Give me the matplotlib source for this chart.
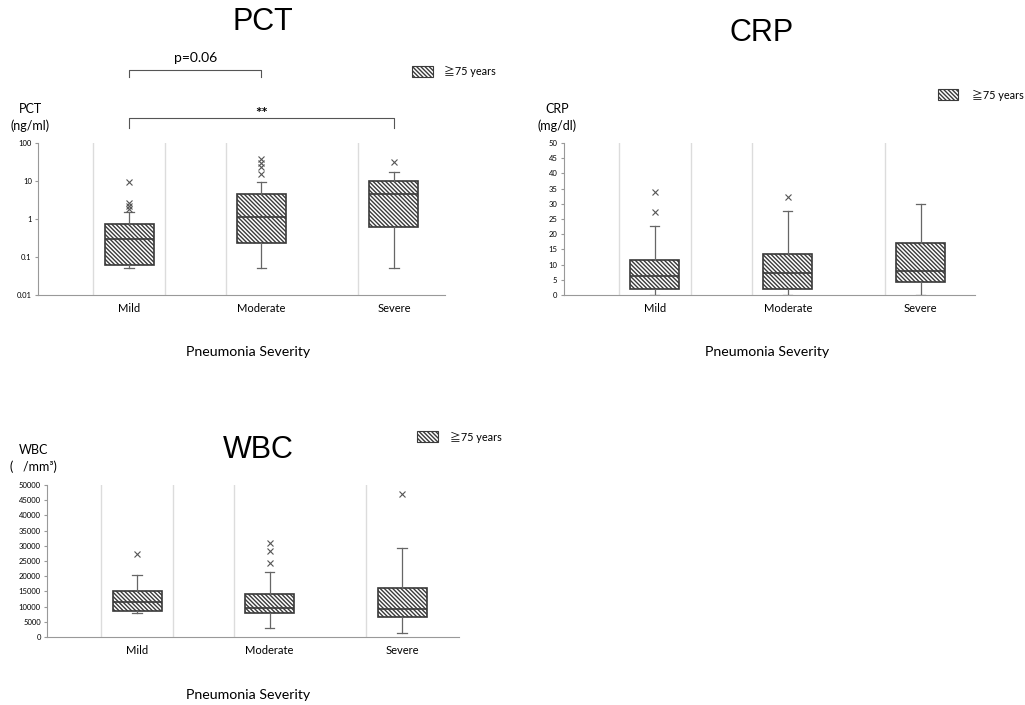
import numpy as np
import matplotlib
matplotlib.use("Agg")
from matplotlib import pyplot as plt
from matplotlib.patches import Rectangle

# category names
categories = ["Mild", "Moderate", "Severe"]

# PCT (ng/ml), log scale
pct_whislo = [0.05, 0.05, 0.05]
pct_q1 = [0.062, 0.24, 0.63]
pct_med = [0.30, 1.1, 4.5]
pct_q3 = [0.75, 4.5, 9.8]
pct_whishi = [1.55, 9.6, 17.6]
pct_fliers = [[9.6, 2.7, 2.2, 1.8], [37, 30, 24, 15], [31]]
pct_ticks = [0.01, 0.1, 1, 10, 100]
pct_ticklabels = ["0.01", "0.1", "1", "10", "100"]

# CRP (mg/dl)
crp_whislo = [0, 0, 0]
crp_q1 = [1.9, 2.1, 4.3]
crp_med = [6.2, 7.3, 8.0]
crp_q3 = [11.5, 13.4, 17.1]
crp_whishi = [22.8, 27.6, 29.9]
crp_fliers = [[34, 27.2], [32.2], []]
crp_ticks = list(range(0, 51, 5))

# WBC (/mm3)
wbc_whislo = [8000, 2850, 1430]
wbc_q1 = [8550, 7800, 6470]
wbc_med = [11400, 9540, 9320]
wbc_q3 = [15130, 14250, 16100]
wbc_whishi = [20300, 21500, 29300]
wbc_fliers = [[27200], [30900, 28300, 24450], [46900]]
wbc_ticks = list(range(0, 50001, 5000))

plt.rcParams['hatch.linewidth'] = 1.0
plt.rcParams['hatch.color'] = '#3a3a3a'

lab_font = ['Lato', 'DejaVu Sans']
leg_font = ['Lato', 'Noto Sans CJK JP', 'DejaVu Sans']
title_font = ['Liberation Sans', 'DejaVu Sans']
dark = '#3a3a3a'
HATCH = '\\' * 8

fig = plt.figure(figsize=(10.25, 7.05), dpi=100)


def make_stats(lo, q1, med, q3, hi, fl):
    stats = []
    for i in range(len(categories)):
        stats.append({'whislo': lo[i], 'q1': q1[i], 'med': med[i], 'q3': q3[i],
                      'whishi': hi[i], 'fliers': fl[i], 'label': categories[i]})
    return stats


def draw_panel(rect, stats, xlim, ylim, ticks, ticklabels, log=False):
    ax = fig.add_axes(rect)
    if log:
        ax.set_yscale('log')
    ax.set_xlim(*xlim)
    ax.set_ylim(*ylim)
    # faint vertical separators
    for xv in [1 - 0.27, 1 + 0.27, 2 - 0.27, 3 - 0.27]:
        ax.axvline(xv, color='#dcdcdc', lw=1.0, zorder=0)
    ax.bxp(stats, positions=[1, 2, 3], widths=0.37, capwidths=0.07,
           patch_artist=True, showfliers=True,
           boxprops=dict(facecolor='white', edgecolor=dark, hatch=HATCH, lw=1.2),
           medianprops=dict(color=dark, lw=1.2),
           whiskerprops=dict(color='#666666', lw=0.9),
           capprops=dict(color='#666666', lw=0.9),
           flierprops=dict(marker='x', markeredgecolor='#555555', markersize=4.5,
                           markeredgewidth=0.8, linestyle='none'))
    for s in ['top', 'right']:
        ax.spines[s].set_visible(False)
    ax.spines['left'].set_color('#999999')
    ax.spines['bottom'].set_color('#999999')
    ax.set_yticks(ticks)
    ax.set_yticklabels(ticklabels, fontsize=5.5, family=lab_font)
    ax.yaxis.set_minor_locator(plt.NullLocator())
    ax.tick_params(axis='y', length=2.5, color='#999999', pad=2)
    ax.set_xticks([1, 2, 3])
    ax.set_xticklabels(categories, fontsize=8, family=lab_font)
    ax.tick_params(axis='x', length=0, pad=6)
    return ax


def legend_at(x, y, tx, ty):
    fig.patches.append(Rectangle((x, y), 0.02, 0.0155, transform=fig.transFigure,
                                 facecolor='white', edgecolor=dark, hatch=HATCH, lw=0.8))
    fig.text(tx, ty, "≧75 years", fontsize=7.8, family=leg_font, va='center', ha='left')


# PCT
ax1 = draw_panel([0.0371, 0.5816, 0.397, 0.2156],
                 make_stats(pct_whislo, pct_q1, pct_med, pct_q3, pct_whishi, pct_fliers),
                 (0.313, 3.385), (0.01, 100), pct_ticks, pct_ticklabels, log=True)
tr = ax1.get_xaxis_transform()
ax1.plot([1, 1, 2, 2], [1.434, 1.48, 1.48, 1.434], color='#555555', lw=0.8, transform=tr, clip_on=False)
ax1.text(1.5, 1.52, "p=0.06", transform=tr, ha='center', va='bottom', fontsize=10, family=lab_font)
ax1.plot([1, 1, 3, 3], [1.099, 1.164, 1.164, 1.099], color='#555555', lw=0.8, transform=tr, clip_on=False)
ax1.text(2.0, 1.145, "**", transform=tr, ha='center', va='bottom', fontsize=11,
         fontweight='bold', family=lab_font)
fig.text(0.2566, 0.969, "PCT", fontsize=22, family=title_font, ha='center', va='center')
fig.text(0.0293, 0.845, "PCT", fontsize=9, family=lab_font, ha='center', va='center')
fig.text(0.0293, 0.821, "(ng/ml)", fontsize=9, family=lab_font, ha='center', va='center')
fig.text(0.242, 0.5, "Pneumonia Severity", fontsize=10.2, family=lab_font, ha='center', va='center')
legend_at(0.402, 0.891, 0.433, 0.898)

# CRP
draw_panel([0.550, 0.5816, 0.401, 0.2156],
           make_stats(crp_whislo, crp_q1, crp_med, crp_q3, crp_whishi, crp_fliers),
           (0.316, 3.406), (0, 50), crp_ticks, [str(t) for t in crp_ticks])
fig.text(0.743, 0.953, "CRP", fontsize=22, family=title_font, ha='center', va='center')
fig.text(0.5434, 0.846, "CRP", fontsize=9, family=lab_font, ha='center', va='center')
fig.text(0.5434, 0.821, "(mg/dl)", fontsize=9, family=lab_font, ha='center', va='center')
fig.text(0.748, 0.5, "Pneumonia Severity", fontsize=10.2, family=lab_font, ha='center', va='center')
legend_at(0.915, 0.858, 0.948, 0.865)

# WBC
draw_panel([0.0459, 0.0965, 0.402, 0.2156],
           make_stats(wbc_whislo, wbc_q1, wbc_med, wbc_q3, wbc_whishi, wbc_fliers),
           (0.321, 3.43), (0, 50000), wbc_ticks, [str(t) for t in wbc_ticks])
fig.text(0.252, 0.362, "WBC", fontsize=22, family=title_font, ha='center', va='center')
fig.text(0.033, 0.362, "WBC", fontsize=9, family=lab_font, ha='center', va='center')
fig.text(0.033, 0.338, "(   /mm³)", fontsize=9, family=lab_font, ha='center', va='center')
fig.text(0.242, 0.014, "Pneumonia Severity", fontsize=10.2, family=lab_font, ha='center', va='center')
legend_at(0.407, 0.373, 0.439, 0.380)

fig.savefig("out.png", dpi=100, facecolor='white')
